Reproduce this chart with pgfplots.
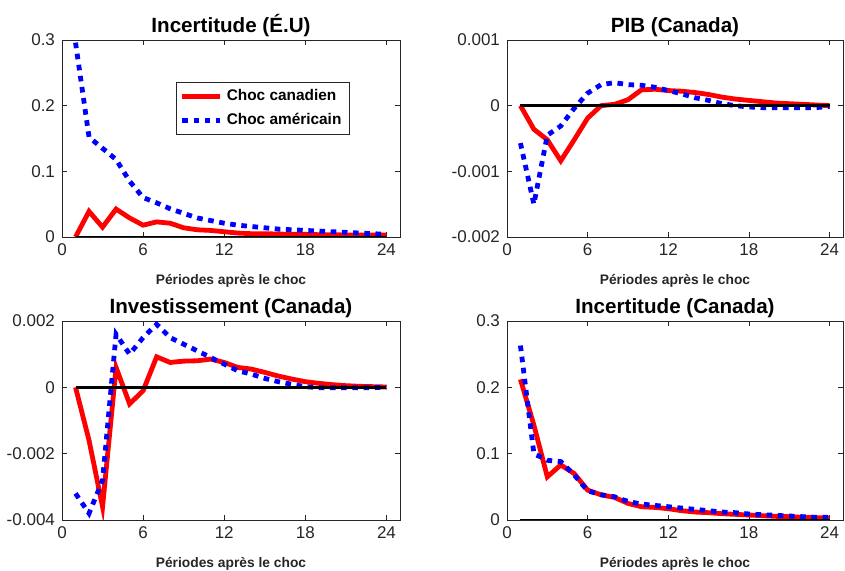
\documentclass[border=0pt]{standalone}
\usepackage{fontspec}
\setmainfont{Liberation Sans}
\usepackage{pgfplots}
\pgfplotsset{compat=1.18}
\definecolor{axgray}{RGB}{38,38,38}
\pgfplotsset{
 irf/.style={
  scale only axis, anchor=south west,
  width=169pt, height=98.5pt,
  xmin=0, xmax=25, xtick={0,6,12,18,24},
  tick align=inside, tick pos=both,
  major tick length=2.5pt,
  axis line style={axgray, line width=0.4pt},
  every tick/.style={axgray, line width=0.4pt},
  ticklabel style={font=\fontsize{8.5}{10}\selectfont, text=axgray},
  title style={font=\bfseries\fontsize{10.3}{12}\selectfont, yshift=-8pt},
  xlabel={Périodes après le choc},
  xlabel style={font=\bfseries\fontsize{6.9}{8}\selectfont, text=axgray, yshift=-2.5pt},
  scaled y ticks=false,
  /pgf/number format/assume math mode=true,
 },
 rline/.style={red, line width=2.4pt},
 bline/.style={blue, line width=2.4pt, dash pattern=on 2.8pt off 2.8pt},
 zline/.style={black, line width=1.2pt, forget plot},
}
\begin{document}
\begin{tikzpicture}
\path[use as bounding box] (0,0) rectangle (422.5pt,285.5pt);
% Panel 1
\begin{axis}[irf, at={(31pt,167pt)},
  title={Incertitude (É.U)},
  ymin=0, ymax=0.3, ytick={0,0.1,0.2,0.3}, yticklabels={0,0.1,0.2,0.3},
  legend style={at={(0.336,0.787)}, anchor=north west, draw=axgray, line width=0.4pt,
    font=\bfseries\fontsize{7.7}{9}\selectfont, inner xsep=2pt, inner ysep=1.5pt, row sep=1pt},
  legend cell align=left,
  legend image code/.code={\draw[#1] (0pt,0pt) -- (19pt,0pt);}]
\addplot[rline] coordinates {(1,0) (2,0.039) (3,0.015) (4,0.0425) (5,0.029) (6,0.018) (7,0.023) (8,0.021) (9,0.014) (10,0.011) (11,0.010) (12,0.008) (13,0.006) (14,0.005) (15,0.005) (16,0.0045) (17,0.004) (18,0.004) (19,0.0035) (20,0.0035) (21,0.003) (22,0.003) (23,0.003) (24,0.003)};
\addlegendentry{Choc canadien}
\addplot[bline] coordinates {(1,0.296) (2,0.152) (3,0.135) (4,0.118) (5,0.085) (6,0.060) (7,0.052) (8,0.043) (9,0.036) (10,0.029) (11,0.025) (12,0.021) (13,0.018) (14,0.016) (15,0.014) (16,0.012) (17,0.011) (18,0.010) (19,0.009) (20,0.008) (21,0.007) (22,0.006) (23,0.005) (24,0.004)};
\addlegendentry{Choc américain}
\addplot[zline] coordinates {(1,0) (24,0)};
\end{axis}
% Panel 2
\begin{axis}[irf, at={(253.5pt,167pt)}, width=168pt,
  title={PIB (Canada)},
  ymin=-0.002, ymax=0.001, ytick={-0.002,-0.001,0,0.001}, yticklabels={-0.002,-0.001,0,0.001}]
\addplot[rline] coordinates {(1,0) (2,-0.00036) (3,-0.00052) (4,-0.00084) (5,-0.00052) (6,-0.00019) (7,0) (8,0.00002) (9,0.00009) (10,0.00024) (11,0.00025) (12,0.00023) (13,0.00022) (14,0.00020) (15,0.00017) (16,0.00013) (17,0.00010) (18,0.00008) (19,0.00006) (20,0.00004) (21,0.00003) (22,0.00002) (23,0.00001) (24,0)};
\addplot[bline] coordinates {(1,-0.00057) (2,-0.0015) (3,-0.00045) (4,-0.00031) (5,-0.00004) (6,0.00019) (7,0.00032) (8,0.00035) (9,0.00032) (10,0.00031) (11,0.00028) (12,0.00023) (13,0.00018) (14,0.00012) (15,0.00008) (16,0.00003) (17,0) (18,-0.00002) (19,-0.00003) (20,-0.00003) (21,-0.00003) (22,-0.00003) (23,-0.00003) (24,-0.00001)};
\addplot[zline] coordinates {(1,0) (24,0)};
\end{axis}
% Panel 3
\begin{axis}[irf, at={(31pt,25.5pt)}, height=99.5pt,
  title={Investissement (Canada)},
  ymin=-0.004, ymax=0.002, ytick={-0.004,-0.002,0,0.002}, yticklabels={-0.004,-0.002,0,0.002}]
\addplot[rline] coordinates {(1,0) (2,-0.0016) (3,-0.0036) (4,0.0006) (5,-0.0005) (6,-0.0001) (7,0.00092) (8,0.00075) (9,0.00079) (10,0.0008) (11,0.00085) (12,0.00075) (13,0.0006) (14,0.00055) (15,0.00045) (16,0.00034) (17,0.00025) (18,0.00017) (19,0.00012) (20,0.00008) (21,0.00005) (22,0.00003) (23,0.00002) (24,0.00001)};
\addplot[bline] coordinates {(1,-0.0032) (2,-0.0038) (3,-0.0028) (4,0.0016) (5,0.0010) (6,0.0015) (7,0.0019) (8,0.0015) (9,0.0013) (10,0.0011) (11,0.0009) (12,0.0007) (13,0.0005) (14,0.0004) (15,0.00027) (16,0.00017) (17,0.00009) (18,0.00002) (19,-0.00001) (20,-0.00001) (21,-0.00001) (22,-0.00001) (23,-0.00001) (24,0)};
\addplot[zline] coordinates {(1,0) (24,0)};
\end{axis}
% Panel 4
\begin{axis}[irf, at={(253.5pt,25.5pt)}, width=168pt, height=99.5pt,
  title={Incertitude (Canada)},
  ymin=0, ymax=0.3, ytick={0,0.1,0.2,0.3}, yticklabels={0,0.1,0.2,0.3}]
\addplot[rline] coordinates {(1,0.212) (2,0.143) (3,0.065) (4,0.083) (5,0.070) (6,0.045) (7,0.038) (8,0.034) (9,0.025) (10,0.020) (11,0.019) (12,0.017) (13,0.014) (14,0.012) (15,0.011) (16,0.0095) (17,0.0085) (18,0.0075) (19,0.0065) (20,0.0055) (21,0.005) (22,0.004) (23,0.0035) (24,0.003)};
\addplot[bline] coordinates {(1,0.263) (2,0.100) (3,0.090) (4,0.088) (5,0.068) (6,0.044) (7,0.038) (8,0.035) (9,0.028) (10,0.024) (11,0.022) (12,0.020) (13,0.018) (14,0.016) (15,0.014) (16,0.012) (17,0.011) (18,0.009) (19,0.008) (20,0.007) (21,0.006) (22,0.005) (23,0.004) (24,0.004)};
\addplot[zline] coordinates {(1,0) (24,0)};
\end{axis}
\end{tikzpicture}
\end{document}
